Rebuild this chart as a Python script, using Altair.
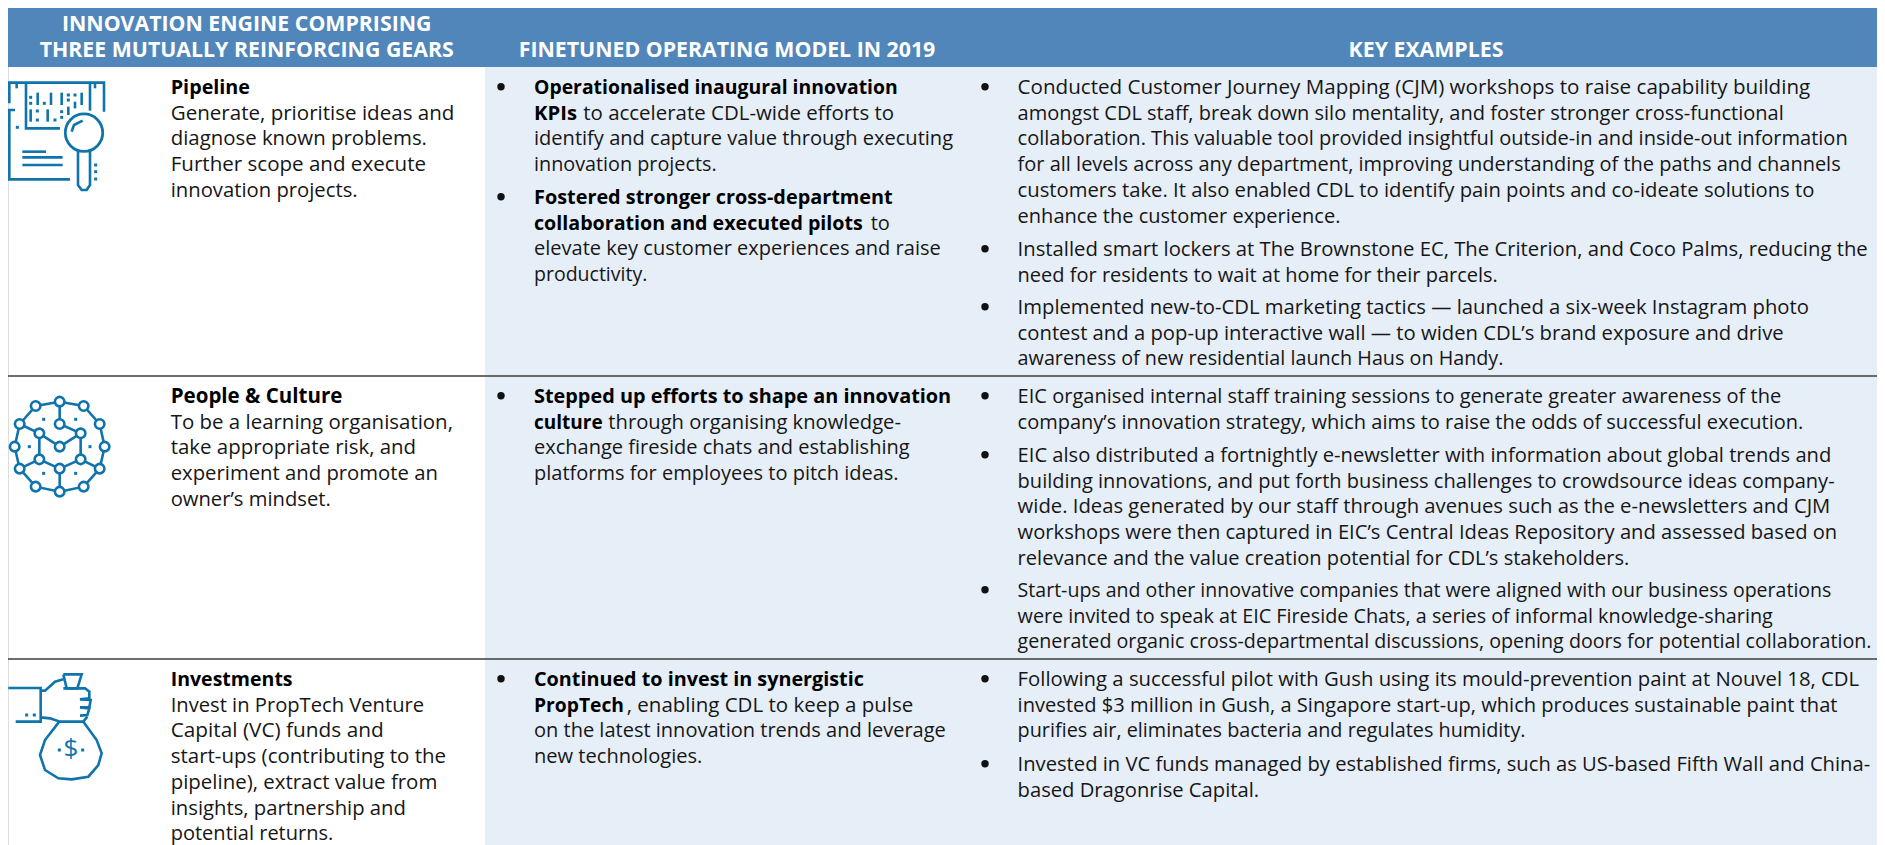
import altair as alt
import pandas as pd

# ---------- table text ----------
HEADERS_COL1 = ["INNOVATION ENGINE COMPRISING", "THREE MUTUALLY REINFORCING GEARS"]
HEADER_COL2 = "FINETUNED OPERATING MODEL IN 2019"
HEADER_COL3 = "KEY EXAMPLES"

GEAR_PIPELINE = ["Pipeline", "Generate, prioritise ideas and", "diagnose known problems.",
                 "Further scope and execute", "innovation projects."]
GEAR_PEOPLE = ["People & Culture", "To be a learning organisation,", "take appropriate risk, and",
               "experiment and promote an", "owner’s mindset."]
GEAR_INVEST = ["Investments", "Invest in PropTech Venture", "Capital (VC) funds and",
               "start-ups (contributing to the", "pipeline), extract value from",
               "insights, partnership and", "potential returns."]

# (bold part, regular part)
MODEL_1A = [("Operationalised inaugural innovation", ""), ("KPIs", "to accelerate CDL-wide efforts to"),
            ("", "identify and capture value through executing"), ("", "innovation projects.")]
MODEL_1B = [("Fostered stronger cross-department", ""), ("collaboration and executed pilots", "to"),
            ("", "elevate key customer experiences and raise"), ("", "productivity.")]
MODEL_2A = [("Stepped up efforts to shape an innovation", ""), ("culture", "through organising knowledge-"),
            ("", "exchange fireside chats and establishing"), ("", "platforms for employees to pitch ideas.")]
MODEL_3A = [("Continued to invest in synergistic", ""), ("PropTech", ", enabling CDL to keep a pulse"),
            ("", "on the latest innovation trends and leverage"), ("", "new technologies.")]

EX_1A = ["Conducted Customer Journey Mapping (CJM) workshops to raise capability building",
         "amongst CDL staff, break down silo mentality, and foster stronger cross-functional",
         "collaboration. This valuable tool provided insightful outside-in and inside-out information",
         "for all levels across any department, improving understanding of the paths and channels",
         "customers take. It also enabled CDL to identify pain points and co-ideate solutions to",
         "enhance the customer experience."]
EX_1B = ["Installed smart lockers at The Brownstone EC, The Criterion, and Coco Palms, reducing the",
         "need for residents to wait at home for their parcels."]
EX_1C = ["Implemented new-to-CDL marketing tactics — launched a six-week Instagram photo",
         "contest and a pop-up interactive wall — to widen CDL’s brand exposure and drive",
         "awareness of new residential launch Haus on Handy."]
EX_2A = ["EIC organised internal staff training sessions to generate greater awareness of the",
         "company’s innovation strategy, which aims to raise the odds of successful execution."]
EX_2B = ["EIC also distributed a fortnightly e-newsletter with information about global trends and",
         "building innovations, and put forth business challenges to crowdsource ideas company-",
         "wide. Ideas generated by our staff through avenues such as the e-newsletters and CJM",
         "workshops were then captured in EIC’s Central Ideas Repository and assessed based on",
         "relevance and the value creation potential for CDL’s stakeholders."]
EX_2C = ["Start-ups and other innovative companies that were aligned with our business operations",
         "were invited to speak at EIC Fireside Chats, a series of informal knowledge-sharing",
         "generated organic cross-departmental discussions, opening doors for potential collaboration."]
EX_3A = ["Following a successful pilot with Gush using its mould-prevention paint at Nouvel 18, CDL",
         "invested $3 million in Gush, a Singapore start-up, which produces sustainable paint that",
         "purifies air, eliminates bacteria and regulates humidity."]
EX_3B = ["Invested in VC funds managed by established firms, such as US-based Fifth Wall and China-",
         "based Dragonrise Capital."]

# where each line ends in the reference (fitted by font size, below)
END_PIPELINE = [250, 454.3, 427.7, 426, 357.7]
END_PEOPLE = [342.3, 453.3, 416, 438.3, 331]
END_INVEST = [292.7, 424, 384, 446, 437.3, 405.7, 333.3]
END_M1A = [(898, None), (577, 894), (None, 953.3), (None, 716.7)]
END_M1B = [(892.7, None), (863, 889), (None, 940.7), (None, 647.3)]
END_M2A = [(951.7, None), (600, 901.7), (None, 910), (None, 899.3)]
END_M3A = [(864, None), (624, 913.3), (None, 946), (None, 702.7)]
END_E1A = [1811, 1784, 1849, 1841, 1815, 1340.5]
END_E1B = [1868, 1498]
END_E1C = [1809.5, 1784, 1504]
END_E2A = [1782.5, 1804]
END_E2B = [1832, 1835.6, 1831, 1838, 1629.6]
END_E2C = [1832, 1773.5, 1872.5]
END_E3A = [1860, 1837.5, 1525.7]
END_E3B = [1870.7, 1259.6]

# ---------- font metrics of Open Sans (units per 2048 em) for fitting ----------
W_REG = dict(zip("abcdefghijklmnopqrstuvwxyz", [1139, 1255, 975, 1255, 1149, 694, 1122, 1257, 518, 518, 1075, 518,
                                                1905, 1257, 1237, 1255, 1255, 836, 977, 723, 1257, 1020, 1593,
                                                1073, 1024, 958]))
W_REG.update(dict(zip("ABCDEFGHIJKLMNOPQRSTUVWXYZ", [1296, 1327, 1292, 1493, 1139, 1057, 1491, 1511, 571, 547, 1257,
                                                     1063, 1849, 1544, 1595, 1233, 1595, 1266, 1124, 1133, 1491,
                                                     1219, 1896, 1182, 1147, 1169])))
W_REG.update({" ": 532, ",": 504, ".": 545, "-": 659, "(": 606, ")": 606, "’": 348, "—": 2048, "$": 1171})
W_REG.update({d: 1171 for d in "0123456789"})
W_BOLD = dict(zip("abcdefghijklmnopqrstuvwxyz", [1237, 1296, 1053, 1296, 1210, 793, 1157, 1346, 625, 625, 1270, 625,
                                                 2011, 1346, 1268, 1296, 1296, 930, 1018, 889, 1346, 1165, 1753,
                                                 1184, 1165, 999]))
W_BOLD.update({" ": 532, "-": 659, "&": 1536, "C": 1305, "F": 1122, "I": 678, "K": 1360, "O": 1630, "P": 1286,
               "S": 1128, "T": 1186})


def fit(text, x0, x1, table, lo, hi):
    em = sum(table.get(c, 1150) for c in text) / 2048
    return round(min(hi, max(lo, (x1 - x0) / em)), 2)


# ---------- colours and layout ----------
HEAD_BLUE = "#5086b9"
PANEL = "#e6eef8"
ICON = "#0f74ab"
INK = "#161616"
FONT = "Open Sans"
LO, HI = 18.8, 21.6
LOB, HIB = 19, 21.5
STEP = 25.7
X1, X2, X3 = 170.7, 534, 1017.6
BUL2, BUL3 = 501, 985
CONT = {"KPIs": 583.3, "collaboration and executed pilots": 870.7, "culture": 608.3, "PropTech": 626.7}
RIGHT = 1877

reg, bold, bullets = [], [], []


def add_col1(lines, ends, y0):
    bold.append(dict(x=X1, y=y0, t=lines[0], fs=fit(lines[0], X1, ends[0], W_BOLD, LOB, HIB)))
    for i, s in enumerate(lines[1:], 1):
        reg.append(dict(x=X1, y=y0 + i * STEP, t=s, fs=fit(s, X1, ends[i], W_REG, LO, HI)))


def add_model(lines, ends, y0):
    bullets.append(dict(x=BUL2, y=y0 - 7.3))
    for i, ((b, r), (eb, er)) in enumerate(zip(lines, ends)):
        y = y0 + i * STEP
        if b:
            bold.append(dict(x=X2, y=y, t=b, fs=fit(b, X2, eb, W_BOLD, LOB, HIB)))
        if r:
            xs = CONT.get(b, X2)
            fs = fit(r, xs, er, W_REG, LO, HI) if len(r) > 3 else 20
            reg.append(dict(x=xs, y=y, t=r, fs=fs))


def add_example(lines, ends, y0):
    bullets.append(dict(x=BUL3, y=y0 - 7.3))
    for i, s in enumerate(lines):
        reg.append(dict(x=X3, y=y0 + i * STEP, t=s, fs=fit(s, X3, ends[i], W_REG, LO, HI)))


for ln, e, y in [(GEAR_PIPELINE, END_PIPELINE, 94), (GEAR_PEOPLE, END_PEOPLE, 403), (GEAR_INVEST, END_INVEST, 686)]:
    add_col1(ln, e, y)
for ln, e, y in [(MODEL_1A, END_M1A, 94), (MODEL_1B, END_M1B, 204), (MODEL_2A, END_M2A, 403), (MODEL_3A, END_M3A, 686)]:
    add_model(ln, e, y)
for ln, e, y in [(EX_1A, END_E1A, 94), (EX_1B, END_E1B, 256), (EX_1C, END_E1C, 314), (EX_2A, END_E2A, 403),
                 (EX_2B, END_E2B, 462), (EX_2C, END_E2C, 597), (EX_3A, END_E3A, 686), (EX_3B, END_E3B, 771)]:
    add_example(ln, e, y)

head = [dict(x=246.7, y=31, t=HEADERS_COL1[0]), dict(x=246.7, y=57, t=HEADERS_COL1[1]),
        dict(x=727, y=57, t=HEADER_COL2), dict(x=1426, y=57, t=HEADER_COL3)]

# ---------- icons (traced outlines, in reference pixels x3) ----------
ICON1_LINES = [
    [(28, 310), (28, 248), (312, 248), (312, 335)],
    [(45, 330), (28, 330), (28, 538), (210, 538)],
    [(78, 248), (78, 385), (180, 385)],
    [(270, 248), (270, 332)],
    [(50, 250), (50, 265)], [(285, 250), (285, 265)],
    [(113, 278), (113, 315)], [(153, 278), (153, 315)], [(185, 278), (185, 315)], [(245, 278), (245, 315)],
    [(92, 328), (92, 365)], [(143, 328), (143, 365)], [(205, 320), (205, 345)], [(225, 305), (225, 325)],
    [(67, 455), (138, 455)], [(67, 472), (188, 472)], [(67, 495), (188, 495)],
    [(234, 448), (234, 555), (245, 570), (260, 570), (270, 555), (270, 448)],
    [(215, 395), (222, 375), (248, 362)],
]
ICON1_DOTS = [(92, 292), (92, 310), (133, 310), (205, 285), (225, 285), (205, 300), (112, 333), (112, 360),
              (165, 360), (185, 335), (185, 352), (52, 382), (287, 495), (287, 515), (287, 537)]
ICON1_RING = [(252, 398)]

NET_OUTER = [(179, 95), (251, 108), (299, 162), (314, 230), (299, 296), (251, 350), (179, 365), (107, 350),
             (59, 296), (44, 230), (59, 162), (107, 108)]
NET_INNER = [(179, 162), (118, 190), (242, 190), (179, 230), (118, 268), (242, 268), (179, 296)]
NET_EDGES = [
    [(179, 95), (179, 162), (242, 190), (242, 268), (299, 296)],
    [(59, 162), (118, 190), (179, 230), (242, 190)],
    [(118, 190), (118, 268), (179, 296), (242, 268)],
    [(59, 296), (118, 268)],
    [(179, 296), (179, 365)],
    NET_OUTER + [NET_OUTER[0]],
]
NET_DOTS = [(131, 148), (227, 148), (88, 230), (270, 230), (131, 310), (227, 310)]

BAG_LINES = [
    [(25, 204), (122, 204), (122, 305), (47, 305)],
    [(122, 212), (135, 212), (165, 185), (190, 178)],
    [(190, 163), (245, 163), (232, 205), (200, 205), (190, 163)],
    [(190, 205), (255, 205), (268, 215), (268, 235), (240, 238), (272, 240), (268, 262), (240, 262),
     (268, 265), (262, 285), (240, 287)],
    [(262, 290), (250, 305), (180, 305), (150, 295), (122, 292)],
    [(178, 305), (135, 360), (120, 405), (135, 450), (175, 475), (215, 478), (265, 470), (295, 435),
     (305, 400), (290, 360), (250, 305)],
]
BAG_DOTS = [(80, 285), (103, 285), (178, 390), (248, 390)]
BAG_SIGN = "$"

ICON_Y = {"pipe": 0, "net": 370, "bag": 620}


def place(pts, key):
    return [(p[0] / 3, p[1] / 3 + ICON_Y[key]) for p in pts]


polys = []
for key, groups in [("pipe", ICON1_LINES), ("net", NET_EDGES), ("bag", BAG_LINES)]:
    for g_i, g in enumerate(groups):
        for s, (px, py) in enumerate(place(g, key)):
            polys.append(dict(id=f"{key}{g_i}", seq=s, x=px, y=py))

dots = [dict(x=a, y=b) for key, pts in [("pipe", ICON1_DOTS), ("net", NET_DOTS), ("bag", BAG_DOTS)]
        for a, b in place(pts, key)]
nodes = [dict(x=a, y=b) for a, b in place(NET_OUTER + NET_INNER, "net")]
ring = [dict(x=a, y=b) for a, b in place(ICON1_RING, "pipe")]
sign = [dict(x=213 / 3, y=620 + 412 / 3, t=BAG_SIGN)]

# ---------- scales (reference pixels) ----------
sx = alt.Scale(domain=[8, RIGHT], nice=False, zero=False)
sy = alt.Scale(domain=[845, 8], nice=False, zero=False)
X = alt.X("x:Q", scale=sx, axis=None)
Y = alt.Y("y:Q", scale=sy, axis=None)
X2c = alt.X2("x2:Q")
Y2c = alt.Y2("y2:Q")

bands = pd.DataFrame([
    dict(x=485, x2=RIGHT, y=67, y2=845, c=PANEL),
    dict(x=8, x2=RIGHT, y=8, y2=67, c=HEAD_BLUE),
])
rect = alt.Chart(bands).mark_rect(stroke=None).encode(
    x=X, x2=X2c, y=Y, y2=Y2c, color=alt.Color("c:N", scale=None))

rules = pd.DataFrame([dict(x=8, x2=RIGHT, y=376), dict(x=8, x2=RIGHT, y=659)])
rule = alt.Chart(rules).mark_rule(color="#3d3d3d", strokeWidth=1.4).encode(x=X, x2=X2c, y=Y)

line = alt.Chart(pd.DataFrame(polys)).mark_line(color=ICON, strokeWidth=2.6, clip=False).encode(
    x=X, y=Y, detail="id:N", order="seq:Q")
dot = alt.Chart(pd.DataFrame(dots)).mark_point(filled=True, color=ICON, size=9, shape="square", opacity=1).encode(x=X, y=Y)
node = alt.Chart(pd.DataFrame(nodes)).mark_point(filled=True, fill="white", stroke=ICON, strokeWidth=2.6,
                                                 size=90, opacity=1).encode(x=X, y=Y)
lens = alt.Chart(pd.DataFrame(ring)).mark_point(filled=False, stroke=ICON, strokeWidth=2.8,
                                                size=1400, opacity=1).encode(x=X, y=Y)
dollar = alt.Chart(pd.DataFrame(sign)).mark_text(font=FONT, fontSize=26, color=ICON, align="center",
                                                 baseline="alphabetic").encode(x=X, y=Y, text="t:N")
bul = alt.Chart(pd.DataFrame(bullets)).mark_point(filled=True, color="#111111", size=55, opacity=1).encode(x=X, y=Y)


def text_layer(rows, **kw):
    enc = dict(x=X, y=Y, text="t:N")
    if "fs" in rows[0]:
        enc["size"] = alt.Size("fs:Q", scale=None, legend=None)
    return alt.Chart(pd.DataFrame(rows)).mark_text(font=FONT, baseline="alphabetic", **kw).encode(**enc)


layers = [rect, rule, line, dot, node, lens, dollar, bul]
layers.append(text_layer(reg, align="left", color=INK))
layers.append(text_layer(bold, align="left", color="#000000", fontWeight="bold"))
layers.append(text_layer(head, align="center", color="white", fontSize=21.3, fontWeight="bold"))

chart = alt.layer(*layers).properties(
    width=RIGHT - 8, height=837, padding=0,
    autosize=alt.AutoSizeParams(type="none", contains="padding"),
).configure_view(stroke=None).configure(background="white")

chart.save("out.html", embed_options={"renderer": "svg", "actions": False})
